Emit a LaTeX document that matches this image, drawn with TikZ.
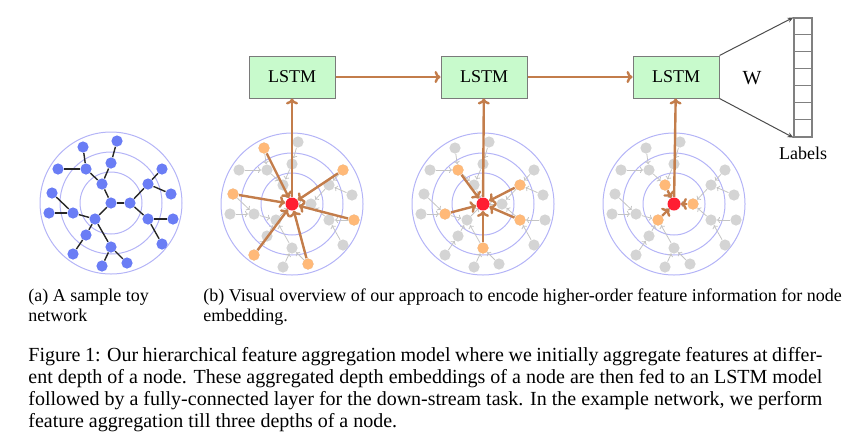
\documentclass[tikz,border=0pt]{standalone}
\usepackage{fontspec}
\setmainfont{Liberation Serif}
\usetikzlibrary{
  arrows.meta,
  positioning
}
\definecolor{ringblue}{HTML}{B4B4F7}
\definecolor{toyblue}{HTML}{6A7DF5}
\definecolor{nodegrey}{HTML}{D4D4D4}
\definecolor{edgegrey}{HTML}{C4C4C4}
\definecolor{hopfill}{HTML}{FFB978}
\definecolor{hopbrown}{HTML}{C37D4B}
\definecolor{rootred}{HTML}{FF1E32}
\definecolor{lstmgreen}{HTML}{C8FACC}
\definecolor{lstmedge}{HTML}{7A7A7A}

% toy tree: name / offset from the root (px, y down)
\newcommand{\toyverts}{A/0/0, B/19/0, C/-9/-19, D/-16/16, E/0/-40, F/6/-62,
  G/-25/-34, H/-28/-56, I/-53/-34, J/-38/10, K/-59/-10, L/-62/10,
  M/-25/32, N/-38/51, O/0/44, P/-9/63, Q/16/60, R/37/-19, S/51/-34,
  T/60/-9, U/37/16, V/62/16, W/51/41}
% child / parent
\newcommand{\toyedges}{B/A, C/A, D/A, E/C, G/C, F/E, H/G, I/G, R/B, U/B,
  S/R, T/R, V/U, W/U, J/D, M/D, O/D, K/J, L/J, N/M, P/O, Q/O}

\begin{document}
\begin{tikzpicture}[
    x=0.5pt, y=-0.5pt,
    every node/.style={font=\fontsize{9}{10}\selectfont},
    lstm/.style={
      rectangle, draw=lstmedge, fill=lstmgreen, line width=0.5pt,
      minimum width=43pt, minimum height=21pt, inner sep=0pt
    },
    labcol/.style={
      rectangle, draw=gray, line width=0.6pt,
      minimum width=9pt, minimum height=59.5pt, inner sep=0pt
    },
    ring/.style={draw=ringblue, line width=0.5pt},
    toynode/.style={circle, fill=toyblue, inner sep=0pt, minimum size=5.6pt},
    greynode/.style={circle, fill=nodegrey, inner sep=0pt, minimum size=5.6pt},
    hopnode/.style={circle, fill=hopfill, inner sep=0pt, minimum size=5.6pt},
    rootnode/.style={circle, fill=rootred, inner sep=0pt, minimum size=6.5pt},
    toyedge/.style={draw=black!85, line width=0.7pt},
    greyarrow/.style={-{To[length=1.5pt, width=3pt]}, draw=edgegrey, line width=0.4pt},
    hoparrow/.style={-{To[length=3pt, width=6pt]}, draw=hopbrown, line width=1.2pt},
    warrow/.style={-{Stealth[length=3pt, width=2.5pt]}, draw=black!70, line width=0.5pt},
    capt/.style={anchor=base west, inner sep=0pt, align=left},
  ]
  \useasboundingbox (0,0) rectangle (855,446);

  % --- LSTM chain ---
  \node[lstm] (lstm1) at (292,77) {LSTM};
  \node[lstm, right=52.5pt of lstm1] (lstm2) {LSTM};
  \node[lstm, right=52.5pt of lstm2] (lstm3) {LSTM};

  \draw[hoparrow] (lstm1) -- (lstm2);
  \draw[hoparrow] (lstm2) -- (lstm3);

  % --- Output layer ---
  \node[labcol] (lab) at (803,77.5) {};
  \foreach \i in {1,...,6}
    \draw[gray, line width=0.6pt] ([yshift=-\i*8.5pt]lab.north west)
      -- ([yshift=-\i*8.5pt]lab.north east);
  \node[below=1pt of lab] (labtxt) {Labels};
  \node[font=\fontsize{10}{12}\selectfont] (wtxt) at (752,78) {W};
  \draw[warrow] (lstm3.north east) -- (lab.north west);
  \draw[warrow] (lstm3.south east) -- (lab.south west);

  % --- (a) toy network ---
  \begin{scope}[shift={(111,203)}]
    \foreach \r in {15.5,25.5,35.5}
      \draw[ring] (0,0) circle[radius=\r pt];
    \foreach \v/\x/\y in \toyverts
      \node[toynode] (a\v) at (\x,\y) {};
    \foreach \u/\w in \toyedges
      \draw[toyedge] (a\u) -- (a\w);
  \end{scope}

  % --- (b) depth views ---
  \foreach \p/\cx in {b/292, c/483, d/674} {
    \begin{scope}[shift={(\cx,204)}]
      \foreach \r in {15.5,25.5,35.5}
        \draw[ring] (0,0) circle[radius=\r pt];
      \foreach \v/\x/\y in \toyverts
        \node[greynode] (\p\v) at (\x,\y) {};
      \foreach \u/\w in \toyedges
        \draw[greyarrow] (\p\u) -- (\p\w);
      \node[rootnode] (\p A) at (0,0) {};
    \end{scope}
  }

  % depth 3
  \foreach \v in {H,S,K,V,N,Q} {
    \node[hopnode] (b\v) at (b\v) {};
    \draw[hoparrow] (b\v) -- (bA);
  }
  % depth 2
  \foreach \v in {G,R,J,U,O} {
    \node[hopnode] (c\v) at (c\v) {};
    \draw[hoparrow] (c\v) -- (cA);
  }
  % depth 1
  \foreach \v in {B,C,D} {
    \node[hopnode] (d\v) at (d\v) {};
    \draw[hoparrow] (d\v) -- (dA);
  }

  \draw[hoparrow] (bA) -- (lstm1);
  \draw[hoparrow] (cA) -- (lstm2);
  \draw[hoparrow] (dA) -- (lstm3);

  % --- Captions ---
  \node[capt] (capa) at (28,321) {(a) A sample toy\\network};
  \node[capt] (capb) at (203,321)
    {(b) Visual overview of our approach to encode higher-order feature information for node\\embedding.};

  \node[anchor=base west, inner sep=0pt, text width=397pt, align=justify,
    font=\fontsize{10}{11.1}\selectfont] (fig) at (28,361)
    {Figure 1: Our hierarchical feature aggregation model where we initially aggregate features at differ-\linebreak
     ent depth of a node. These aggregated depth embeddings of a node are then fed to an LSTM model\linebreak
     followed by a fully-connected layer for the down-stream task. In the example network, we perform\linebreak
     feature aggregation till three depths of a node.};

\end{tikzpicture}
\end{document}
